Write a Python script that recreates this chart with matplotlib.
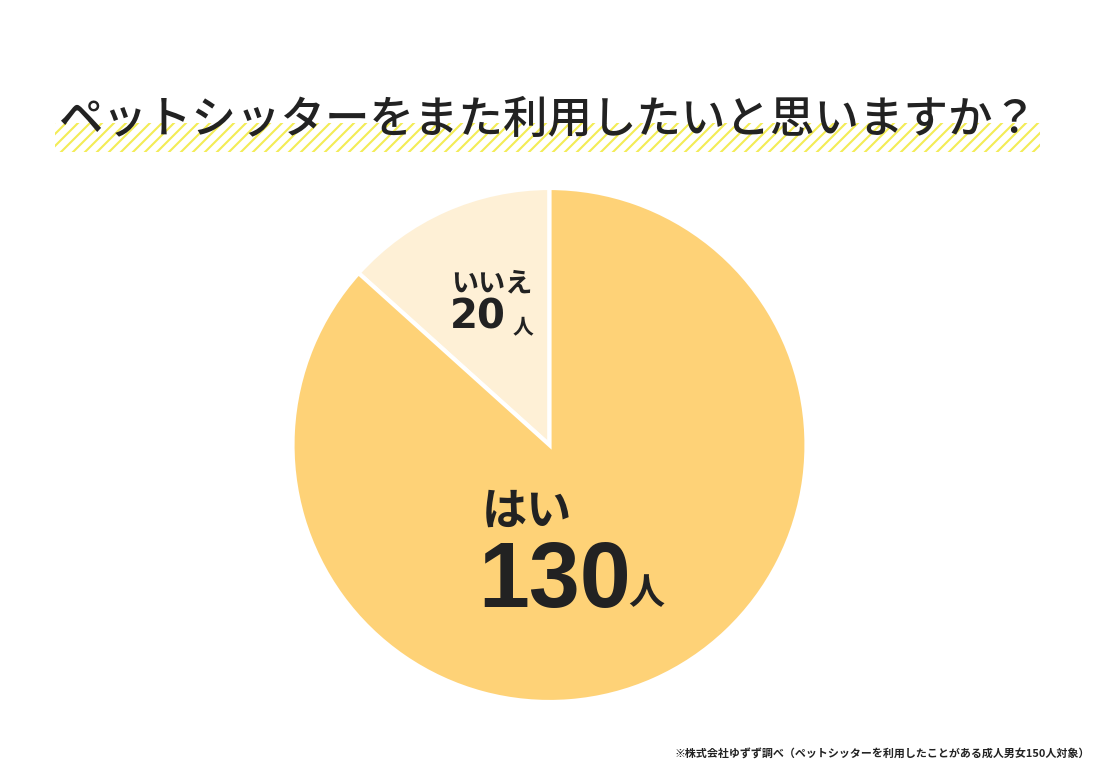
import matplotlib
matplotlib.use('Agg')
import matplotlib.pyplot as plt
from matplotlib.lines import Line2D

plt.rcParams['font.family'] = ['Noto Sans CJK JP', 'DejaVu Sans']

# Data
answers = ['いいえ', 'はい']
counts = [20, 130]
colors = ['#FEF0D6', '#FED277']

TITLE = 'ペットシッターをまた利用したいと思いますか？'
NOTE = '※株式会社ゆずず調べ（ペットシッターを利用したことがある成人男女150人対象）'

W, H = 1100, 768
fig = plt.figure(figsize=(W / 100, H / 100), dpi=100)

# Hatched band under the title
band = fig.add_axes([55 / W, (H - 152) / H, 985 / W, 29 / H])
band.set_xlim(0, 985)
band.set_ylim(0, 29)
band.axis('off')
for x0 in range(-30, 990, 12):
    band.add_line(Line2D([x0, x0 + 29], [0, 29], color='#F3EC55', lw=1.5,
                         clip_on=True))

fig.text(548 / W, 1 - 120 / H, TITLE, ha='center', va='center',
         fontsize=32, fontweight='medium', color='#222222')

# Pie
r = 257
cx, cy = 549.5, 445
ax = fig.add_axes([(cx - r) / W, (H - cy - r) / H, 2 * r / W, 2 * r / H])
ax.pie(counts, colors=colors, startangle=90, counterclock=True,
       radius=1.0, wedgeprops=dict(edgecolor='white', linewidth=3))
ax.set_xlim(-1, 1)
ax.set_ylim(-1, 1)
ax.set_aspect('equal')
ax.axis('off')

def px(x, y):
    return (x - cx) / r, (cy - y) / r

# Labels for 'はい'
ax.text(*px(482, 512), answers[1], ha='left', va='center', fontsize=32.5,
        fontweight='bold', color='#222222')
ax.text(*px(478, 583), str(counts[1]), ha='left', va='center', fontsize=66,
        fontweight='bold', color='#222222', family='Liberation Sans')
ax.text(*px(628, 594), '人', ha='left', va='center', fontsize=26,
        fontweight='bold', color='#222222')

# Labels for 'いいえ'
ax.text(*px(451, 283), answers[0], ha='left', va='center', fontsize=19.5,
        fontweight='bold', color='#222222')
ax.text(*px(450, 318), str(counts[0]), ha='left', va='center', fontsize=29,
        fontweight='bold', color='#222222', family='DejaVu Sans')
ax.text(*px(513, 327), '人', ha='left', va='center', fontsize=15,
        fontweight='bold', color='#222222')

fig.text(1090 / W, 1 - 754 / H, NOTE, ha='right', va='center', fontsize=7.9,
         fontweight='bold', color='#222222')

fig.savefig('out.png', dpi=100)
